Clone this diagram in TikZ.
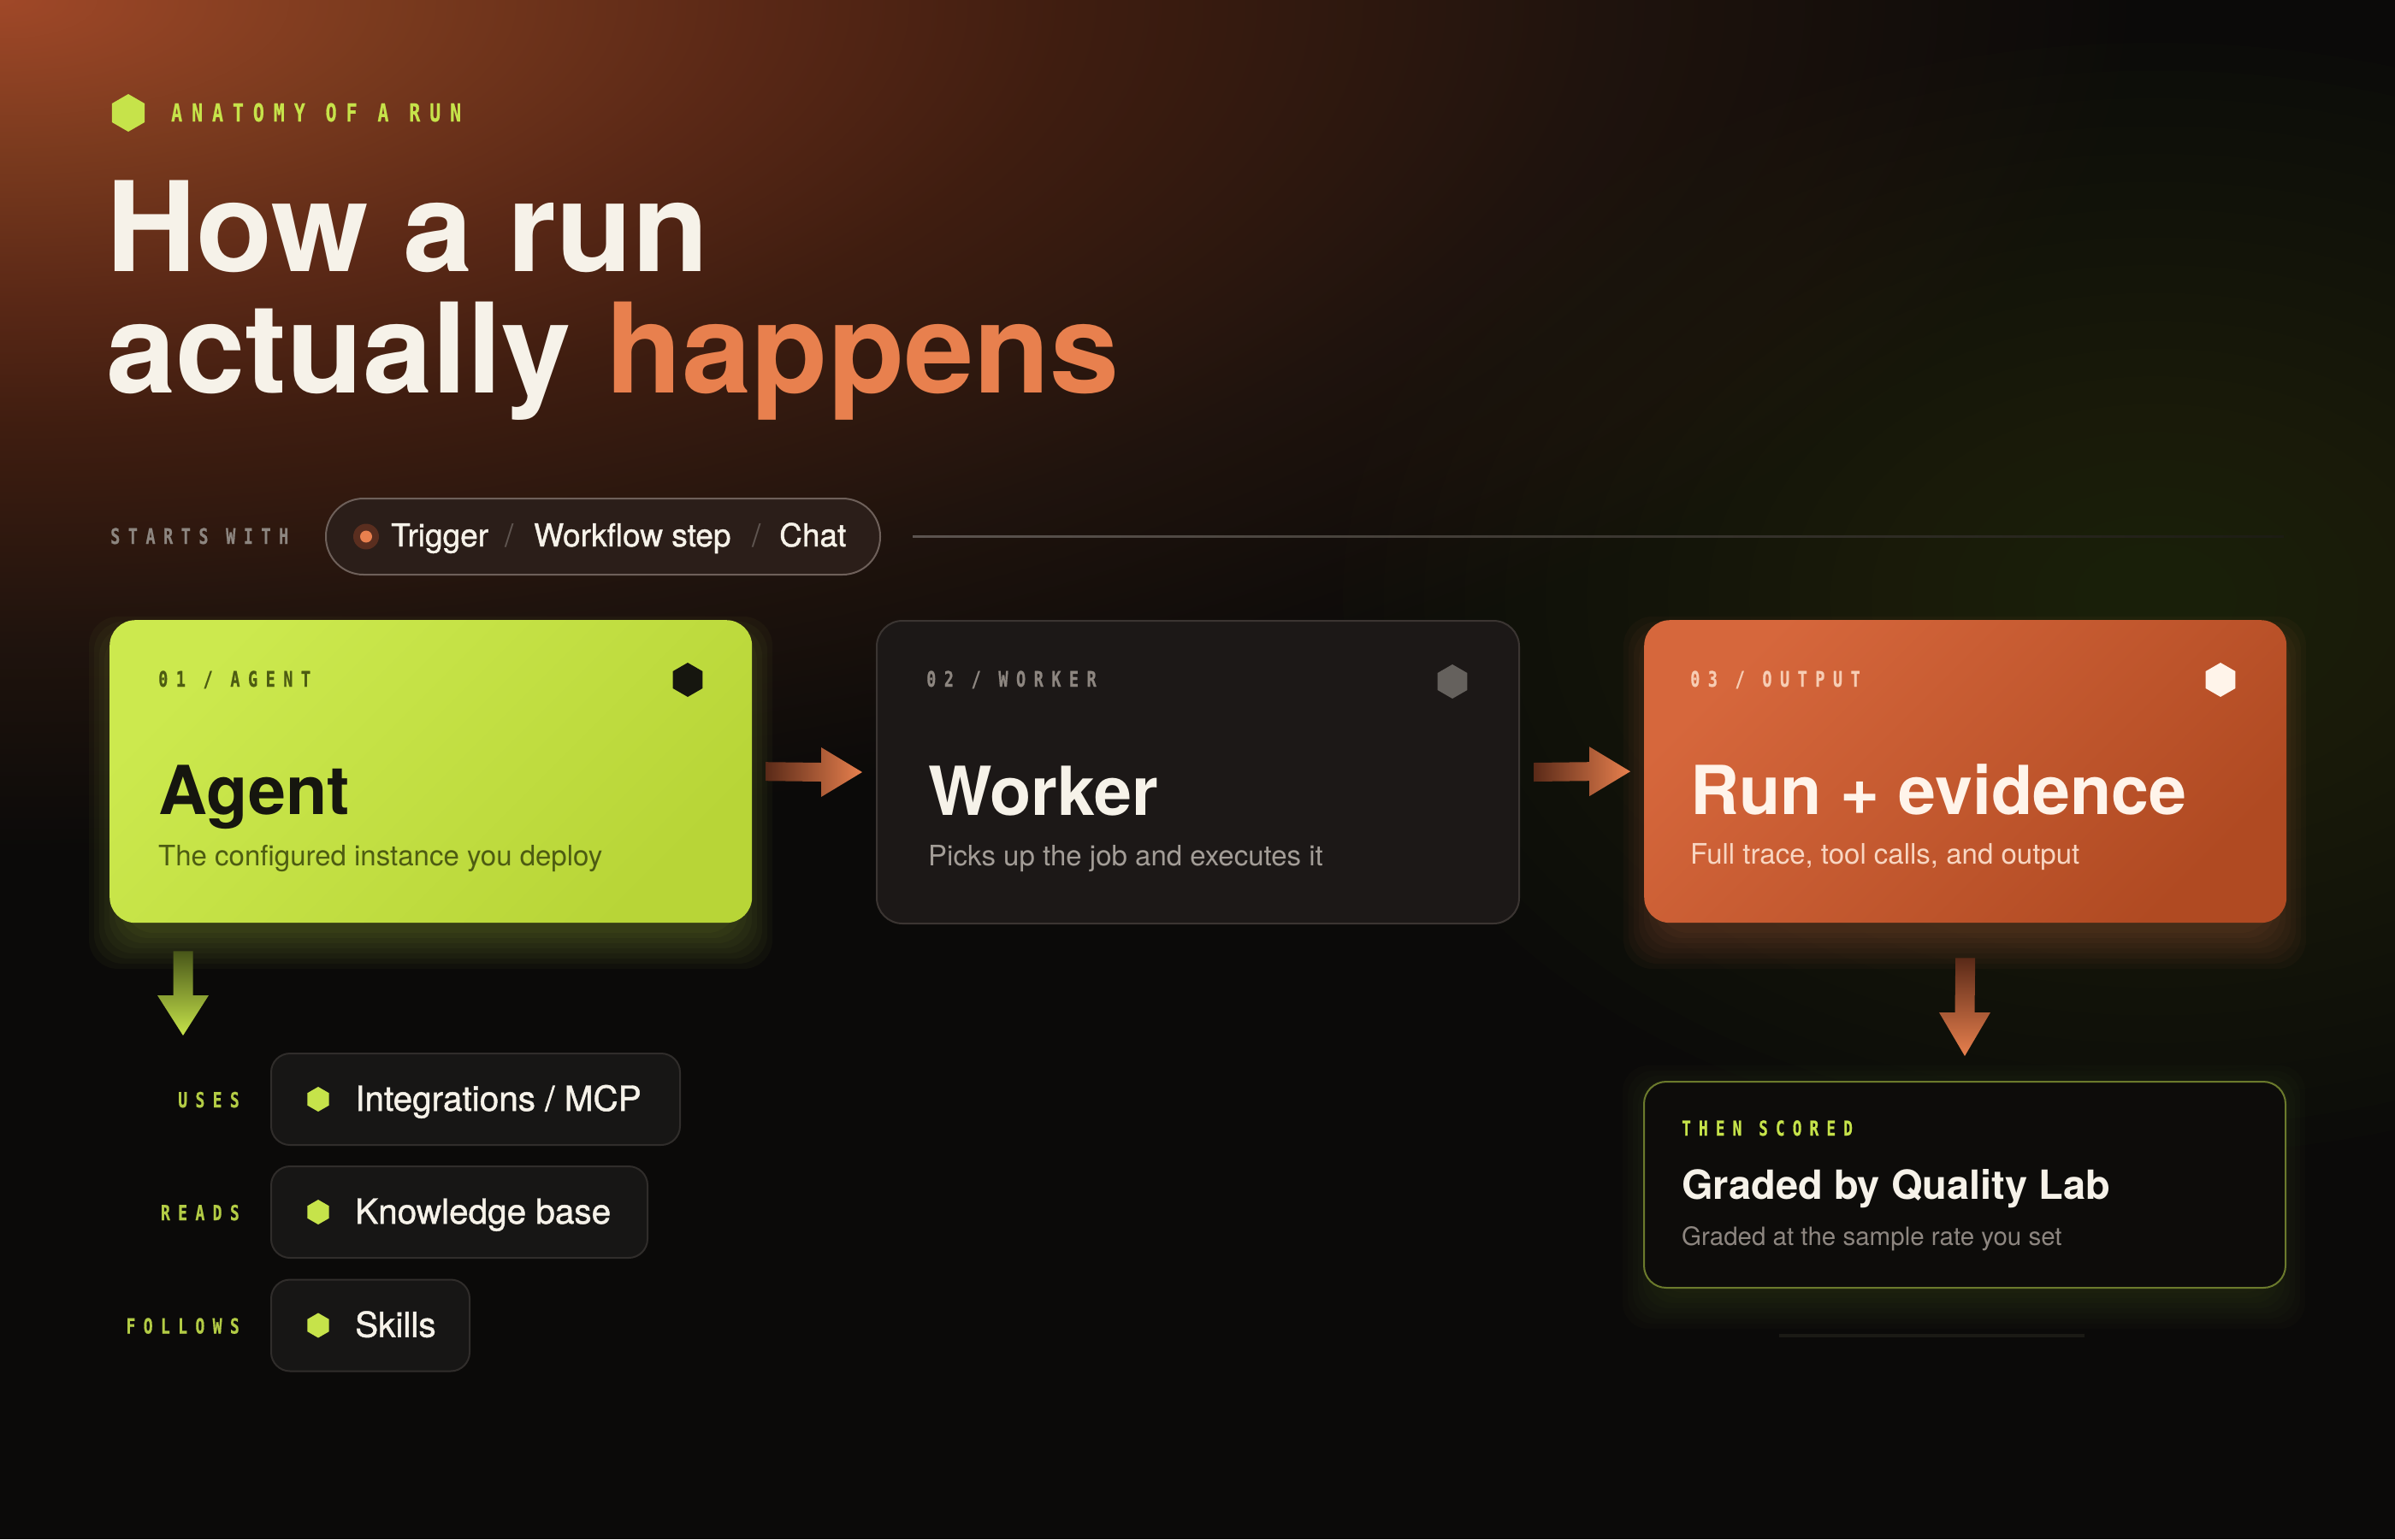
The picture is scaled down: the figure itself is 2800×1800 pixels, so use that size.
\documentclass[tikz,border=0pt]{standalone}
\usepackage{fontspec}
\setmainfont{TeX Gyre Heros}
\newfontfamily\monofont{DejaVu Sans Mono}[FakeStretch=0.74, LetterSpace=38, FakeBold=0.6]
\newfontfamily\medfont{TeX Gyre Heros}[FakeBold=1.2]
\usetikzlibrary{shapes.geometric,calc}

\definecolor{bgdark}{HTML}{0B0A09}
\definecolor{rustA}{HTML}{A04828}
\definecolor{rustB}{HTML}{7A3A1E}
\definecolor{rustC}{HTML}{5A2816}
\definecolor{rustD}{HTML}{3F1D10}
\definecolor{rustE}{HTML}{1F130D}
\definecolor{olivehaze}{HTML}{2C3416}
\definecolor{cream}{HTML}{F6F2E9}
\definecolor{limeacc}{HTML}{C6E34A}
\definecolor{limedim}{HTML}{B3CC45}
\definecolor{limelight}{HTML}{CCE94E}
\definecolor{limedeep}{HTML}{B8D537}
\definecolor{olivetext}{HTML}{4D5C12}
\definecolor{inkdark}{HTML}{16160F}
\definecolor{orangeacc}{HTML}{E8804E}
\definecolor{orangelight}{HTML}{D6673C}
\definecolor{orangedeep}{HTML}{B04A22}
\definecolor{peach}{HTML}{F7CDB4}
\definecolor{peachsub}{HTML}{F8D6C2}
\definecolor{outtitle}{HTML}{FFF4EA}
\definecolor{greytext}{HTML}{8D8680}
\definecolor{greysub}{HTML}{A39D97}
\definecolor{slashgrey}{HTML}{5F5550}
\definecolor{cardfill}{HTML}{1C1817}
\definecolor{cardline}{HTML}{3B3532}
\definecolor{pillfill}{HTML}{171615}
\definecolor{pillline}{HTML}{302D2B}
\definecolor{startfill}{HTML}{2B1E19}
\definecolor{startline}{HTML}{6E605A}
\definecolor{startrule}{HTML}{5C5450}
\definecolor{rulefade}{HTML}{1C1C13}
\definecolor{dothalo}{HTML}{5A2E1F}
\definecolor{hexgrey}{HTML}{65615D}
\definecolor{scoreline}{HTML}{6B7A2C}
\definecolor{scorefill}{HTML}{0D0C0A}
\definecolor{arrowrust}{HTML}{5A2A18}
\definecolor{arrowolive}{HTML}{485619}
\definecolor{faintbar}{HTML}{1B1A15}

% the path fills the inner 50bp of a shading
\pgfdeclareradialshading{rustglow}{\pgfpointorigin}{color(0bp)=(rustA); color(4.5bp)=(rustB); color(8.75bp)=(rustC); color(12.5bp)=(rustD); color(18.75bp)=(rustE); color(25bp)=(bgdark); color(50bp)=(bgdark)}

\tikzset{
  kicker/.style={font=\monofont\bfseries\fontsize{25}{25}\selectfont, anchor=base west, inner sep=0},
  hexmark/.style={regular polygon, regular polygon sides=6, shape border rotate=30, minimum size=40, inner sep=0},
  card/.style={rounded corners=30, minimum width=751, minimum height=354, inner sep=0, anchor=north west},
  cardtag/.style={kicker, font=\monofont\bfseries\fontsize{25}{25}\selectfont},
  cardtitle/.style={font=\bfseries\fontsize{79}{79}\selectfont, anchor=base west, inner sep=0},
  cardsub/.style={font=\fontsize{33}{33}\selectfont, anchor=base west, inner sep=0},
  pilltext/.style={font=\medfont\fontsize{37}{37}\selectfont, text=cream, anchor=base west, inner sep=0},
  slashtext/.style={font=\fontsize{37}{37}\selectfont, text=slashgrey, anchor=base west, inner sep=0},
  itempill/.style={draw=pillline, fill=pillfill, line width=2, rounded corners=22, minimum height=107, inner sep=0, anchor=west},
  itemtext/.style={font=\medfont\fontsize{40.5}{40.5}\selectfont, text=cream, anchor=base west, inner sep=0},
  sidelabel/.style={kicker, text=limedim, anchor=base east, font=\monofont\bfseries\fontsize{24.5}{25}\selectfont},
}

\begin{document}
\begin{tikzpicture}[x=1pt,y=-1pt]
\useasboundingbox (0,0) rectangle (2800,1800);
\fill[bgdark] (0,0) rectangle (2800,1800);
\begin{scope}
\clip (0,0) rectangle (2800,1800);
\shade[shading=rustglow] (0,0) ellipse (2500 and 1000);
\foreach \s in {1.0,0.95,...,0.05}
  \fill[olivehaze, fill opacity=0.05] (2520,700) ellipse ({950*\s} and {650*\s});
\end{scope}

% heading
\node[hexmark, minimum size=44, fill=limeacc] (kickerhex) at (150,132) {};
\node[kicker, text=limeacc, font=\monofont\bfseries\fontsize{29}{29}\selectfont] (kicker) at (200,142) {ANATOMY OF A RUN};
\node[anchor=base west, inner sep=0, font=\bfseries\fontsize{146}{146}\selectfont, text=cream] (title1) at (124,317) {How a run};
\node[anchor=base west, inner sep=0, font=\bfseries\fontsize{146}{146}\selectfont, text=cream] (title2) at (124,459) {actually \textcolor{orangeacc}{happens}};

% starts with
\node[kicker, text=greytext] (startslbl) at (129,636) {STARTS WITH};
\node[draw=startline, fill=startfill, line width=2, rounded corners=44, minimum width=648, minimum height=89, inner sep=0] (starts) at (705,627.5) {};
\node[circle, fill=dothalo, minimum size=30, inner sep=0] (halo) at (428,627.5) {};
\node[circle, fill=orangeacc, minimum size=14, inner sep=0] (dot) at (428,627.5) {};
\node[pilltext] (trigger) at (457,639) {Trigger};
\node[slashtext] (slash1) at (590,639) {/};
\node[pilltext] (wfstep) at (624,639) {Workflow step};
\node[slashtext] (slash2) at (879,639) {/};
\node[pilltext] (chat) at (911,639) {Chat};
\shade[left color=startrule, right color=rulefade] (1067,626) rectangle (2670,628.5);

% card glows
\foreach \g in {2,8,...,44}
  \fill[limeacc, fill opacity=0.035, rounded corners=34] (148-\g,765-\g) rectangle (859+\g,1089+\g);
\foreach \g in {2,8,...,44}
  \fill[orangeacc, fill opacity=0.035, rounded corners=34] (1942-\g,765-\g) rectangle (2652+\g,1089+\g);
\foreach \g in {2,8,...,44}
  \fill[scoreline, fill opacity=0.03, rounded corners=30] (1941-\g,1290-\g) rectangle (2651+\g,1510+\g);

% cards
\node[card, top color=limelight, bottom color=limedeep, shading angle=45] (agent) at (128,725) {};
\node[card, fill=cardfill, draw=cardline, line width=2] (worker) at (1024,725) {};
\node[card, top color=orangelight, bottom color=orangedeep, shading angle=45] (output) at (1922,725) {};

\node[cardtag, text=olivetext] (agenttag) at (185,803) {01 / AGENT};
\node[hexmark, fill=inkdark] (agenthex) at (804,795) {};
\node[cardtitle, text=inkdark] (agenttitle) at (185,952) {Agent};
\node[cardsub, text=olivetext] (agentsub) at (185,1012) {The configured instance you deploy};

\node[cardtag, text=greytext] (workertag) at (1083,803) {02 / WORKER};
\node[hexmark, fill=hexgrey] (workerhex) at (1698,797) {};
\node[cardtitle, text=cream] (workertitle) at (1085,953) {Worker};
\node[cardsub, text=greysub] (workersub) at (1085,1012) {Picks up the job and executes it};

\node[cardtag, text=peach] (outputtag) at (1976,803) {03 / OUTPUT};
\node[hexmark, fill=outtitle] (outputhex) at (2596,795) {};
\node[cardtitle, text=outtitle] (outputtitle) at (1976,952) {Run + evidence};
\node[cardsub, text=peachsub] (outputsub) at (1976,1010) {Full trace, tool calls, and output};

% arrows between the cards
\shade[left color=arrowrust, right color=orangeacc] ($(agent.east)+(16,-11)$) -- ($(worker.west)+(-64,-11)$) -- ($(worker.west)+(-64,-29)$) -- ($(worker.west)+(-16,0)$) -- ($(worker.west)+(-64,29)$) -- ($(worker.west)+(-64,11)$) -- ($(agent.east)+(16,11)$) -- cycle;
\shade[left color=arrowrust, right color=orangeacc] ($(worker.east)+(16,-11)$) -- ($(output.west)+(-64,-11)$) -- ($(output.west)+(-64,-29)$) -- ($(output.west)+(-16,0)$) -- ($(output.west)+(-64,29)$) -- ($(output.west)+(-64,11)$) -- ($(worker.east)+(16,11)$) -- cycle;

% scored card
\node[draw=scoreline, fill=scorefill, line width=2, rounded corners=26, minimum width=750, minimum height=241, anchor=north west, inner sep=0] (scored) at (1921,1264) {};
\node[kicker, text=limeacc, font=\monofont\bfseries\fontsize{24}{24}\selectfont] (scoredtag) at (1966,1328) {THEN SCORED};
\node[anchor=base west, inner sep=0, font=\bfseries\fontsize{47}{47}\selectfont, text=cream] (scoredtitle) at (1966,1402) {Graded by Quality Lab};
\node[cardsub, text=greytext, font=\fontsize{29.5}{30}\selectfont] (scoredsub) at (1966,1456) {Graded at the sample rate you set};
\draw[faintbar, line width=4] (2080,1562) -- (2437,1562);

\shade[top color=arrowrust, bottom color=orangeacc] ($(output.south)+(-11.5,41)$) -- ($(output.south)+(11.5,41)$) -- ($(scored.north)+(11.5,-80)$) -- ($(scored.north)+(30,-80)$) -- ($(scored.north)+(0,-29)$) -- ($(scored.north)+(-30,-80)$) -- ($(scored.north)+(-11.5,-80)$) -- cycle;

% what the agent uses
\coordinate (usetip) at (214,1211);
\shade[top color=arrowolive, bottom color=limeacc] ($(agent.south west)+(74.5,33)$) -- ($(agent.south west)+(97.5,33)$) -- ($(usetip)+(11.5,-47)$) -- ($(usetip)+(30,-47)$) -- (usetip) -- ($(usetip)+(-30,-47)$) -- ($(usetip)+(-11.5,-47)$) -- cycle;

\node[itempill, minimum width=478] (uses) at (316,1285.5) {};
\node[hexmark, minimum size=29, fill=limeacc] (useshex) at (372,1285.5) {};
\node[itemtext] (usestext) at (415,1299) {Integrations / MCP};
\node[sidelabel] (useslbl) at (280,1295) {USES};

\node[itempill, minimum width=440] (reads) at (316,1417.5) {};
\node[hexmark, minimum size=29, fill=limeacc] (readshex) at (372,1417.5) {};
\node[itemtext] (readstext) at (415,1431) {Knowledge base};
\node[sidelabel] (readslbl) at (280,1427) {READS};

\node[itempill, minimum width=232] (follows) at (316,1550) {};
\node[hexmark, minimum size=29, fill=limeacc] (followshex) at (372,1550) {};
\node[itemtext] (followstext) at (415,1563.5) {Skills};
\node[sidelabel] (followslbl) at (280,1559.5) {FOLLOWS};
\end{tikzpicture}
\end{document}
